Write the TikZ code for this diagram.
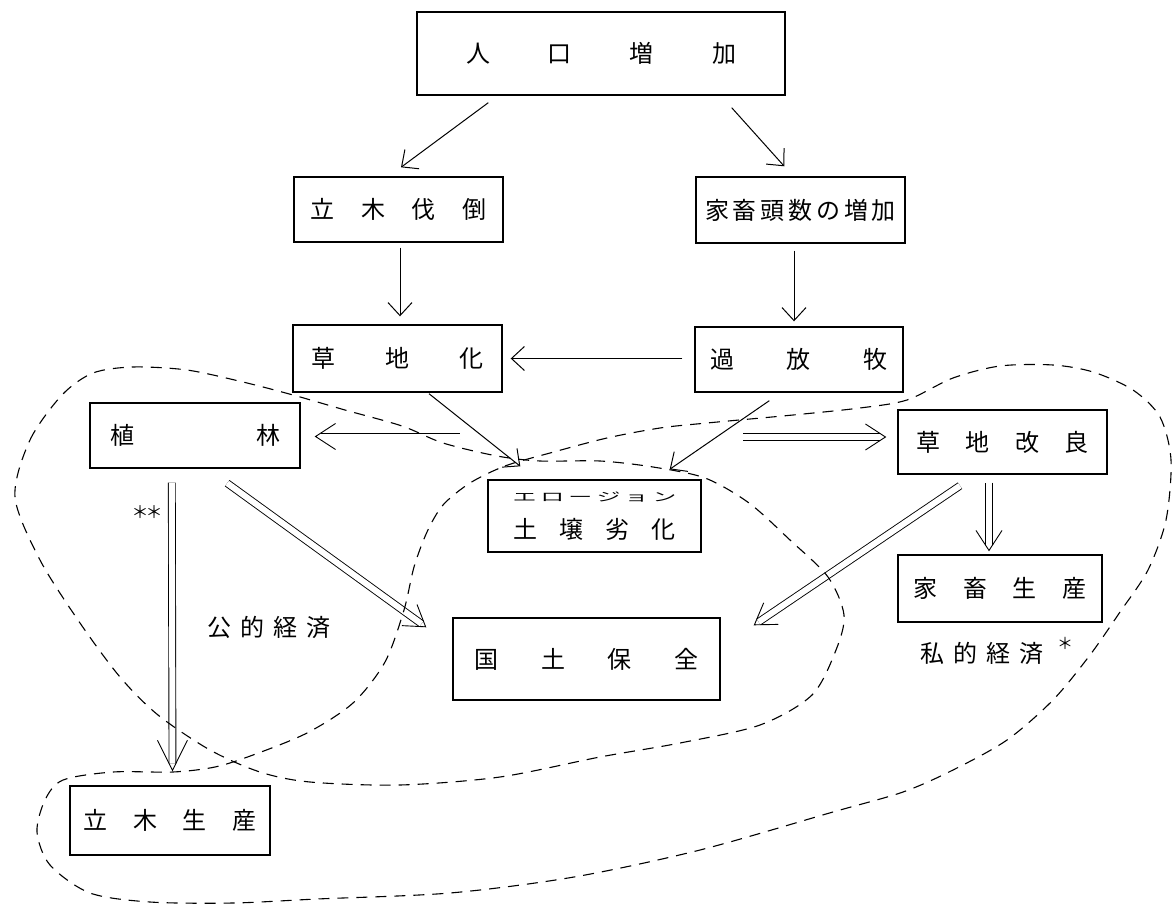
\documentclass[tikz,border=0pt]{standalone}
\usepackage{fontspec}
\usepackage{graphicx}
\newfontfamily\jpfont{Noto Sans CJK JP}
\usetikzlibrary{positioning, arrows.meta, calc, decorations.markings}

\begin{document}
\begin{tikzpicture}[x=1pt, y=-1pt,
    box/.style={draw, line width=1.4pt, inner sep=0pt, font=\jpfont\fontsize{24}{28}\selectfont},
    lbl/.style={inner sep=0pt, font=\jpfont\fontsize{24}{28}\selectfont},
    arr/.style={line width=1pt, -{Straight Barb[length=13pt, width=24pt]}},
    dblarrow/.style n args={3}{line width=7.8pt, shorten >=#3,
        postaction={draw=white, line width=6pt, shorten >=#3},
        postaction={decorate, decoration={markings, mark=at position 1 with
            {\draw[black, line width=0.9pt, shorten >=0pt, shorten <=0pt,
                -{Straight Barb[length=#1, width=#2]}] (-2pt,0) -- (0pt,0);}}}},
    dbl/.style={dblarrow={20pt}{26pt}{6pt}},
    dbllong/.style={dblarrow={30pt}{30pt}{8pt}},
    zone/.style={line width=1.1pt, dash pattern=on 11pt off 8pt}]
    \useasboundingbox (0,0) rectangle (1173,907);

    % Riquadri
    \node[box, minimum width=368pt, minimum height=83pt] (pop) at (601,53.5) {\makebox[270pt]{人\hfill 口\hfill 増\hfill 加}};
    \node[box, minimum width=209pt, minimum height=65pt] (fell) at (398.5,209.5) {\makebox[176pt]{立\hfill 木\hfill 伐\hfill 倒}};
    \node[box, minimum width=209pt, minimum height=66pt] (stock) at (800.5,210) {\makebox[191pt]{家\hfill 畜\hfill 頭\hfill 数\hfill の\hfill 増\hfill 加}};
    \node[box, minimum width=209pt, minimum height=67pt] (grass) at (397.5,358.5) {\makebox[173pt]{草\hfill 地\hfill 化}};
    \node[box, minimum width=208pt, minimum height=65pt] (over) at (799,359.5) {\makebox[177pt]{過\hfill 放\hfill 牧}};
    \node[box, minimum width=210pt, minimum height=65pt] (plant) at (195,435.5) {\makebox[170pt]{植\hfill 林}};
    \node[box, minimum width=213pt, minimum height=72pt, align=center] (erosion) at (594.5,516)
        {\scalebox{1}[0.5]{\fontsize{24}{24}\selectfont\makebox[164pt]{エ\hfill ロ\hfill ー\hfill ジ\hfill ョ\hfill ン}}\\[9pt]\makebox[162pt]{土\hfill 壌\hfill 劣\hfill 化}};
    \node[box, minimum width=209pt, minimum height=64pt] (improve) at (1002.5,442) {\makebox[172pt]{草\hfill 地\hfill 改\hfill 良}};
    \node[box, minimum width=204pt, minimum height=67pt] (prod) at (1000,588.5) {\makebox[173pt]{家\hfill 畜\hfill 生\hfill 産}};
    \node[box, minimum width=267pt, minimum height=82pt] (conserve) at (586.5,659) {\makebox[224pt]{国\hfill 土\hfill 保\hfill 全}};
    \node[box, minimum width=200pt, minimum height=69pt] (timber) at (170,820.5) {\makebox[173pt]{立\hfill 木\hfill 生\hfill 産}};

    % Scritte
    \node[lbl] (pubtxt) at (268.5,627) {\makebox[123pt]{公\hfill 的\hfill 経\hfill 済}};
    \node[lbl] (privtxt) at (981.5,653) {\makebox[123pt]{私\hfill 的\hfill 経\hfill 済}};
    \node[inner sep=0pt, font=\jpfont\fontsize{16}{16}\selectfont] (star1) at (1065,643) {＊};
    \node[inner sep=0pt, font=\jpfont\fontsize{17}{17}\selectfont] (star2) at (147,512) {＊\kern-3pt＊};

    % Frecce semplici
    \draw[arr] ($(pop.south west)+(72,7)$) -- ($(fell.north)+(2.5,-9)$);
    \draw[arr] ($(pop.south east)+(-54,12)$) -- ($(stock.north west)+(89,-10)$);
    \draw[arr] ($(fell.south)+(1.5,5)$) -- ($(grass.north)+(2.5,-8)$);
    \draw[arr] ($(stock.south)+(-6.5,7)$) -- ($(over.north)+(-5,-5)$);
    \draw[arr] ($(over.west)+(-12,-1)$) -- ($(grass.east)+(8,0)$);
    \draw[arr] ($(grass.south)+(31.5,1)$) -- ($(erosion.north west)+(33,-13)$);
    \draw[arr] ($(over.south west)+(75,8)$) -- ($(erosion.north east)+(-32,-10)$);

    % Frecce doppie
    \coordinate (lfrom) at (460,436.5);
    \coordinate (rfrom) at (743,437);
    \draw[dbl] (lfrom) -- ($(plant.east)+(14,1)$);
    \draw[dbl] (rfrom) -- ($(improve.west)+(-11,-5)$);
    \draw[dbllong] ($(plant.south west)+(82.5,14)$) -- ($(timber.north)+(2.5,-14)$);
    \draw[dbl] ($(plant.south east)+(-73.5,14.5)$) -- ($(conserve.north west)+(-26,10)$);
    \draw[dbl] ($(improve.south)+(-42.5,11)$) -- ($(conserve.north east)+(33,8)$);
    \draw[dbl] ($(improve.south)+(-13.5,8)$) -- ($(prod.north)+(-11,-3)$);

    % Zone tratteggiate
    \draw[zone] plot[smooth cycle, tension=0.5] coordinates {
        (15,497) (30,440) (62,395) (93,373) (133,367) (187,370) (243,382) (293,395)
        (345,410) (402,426) (443,443) (497,456) (540,461) (600,461) (653,467) (705,478)
        (749,503) (790,540) (828,577) (844,615) (836,650) (812,695) (760,725) (680,743)
        (600,757) (500,777) (400,785) (310,782) (260,772) (210,750) (158,715) (120,677)
        (80,623) (40,560)};
    \draw[zone] plot[smooth cycle, tension=0.5] coordinates {
        (470,483) (505,466) (550,453) (607,438) (660,428) (707,423) (793,415) (860,408)
        (907,400) (953,378) (1000,366) (1053,365) (1093,372) (1133,390) (1160,417) (1171,460)
        (1166,520) (1148,570) (1120,612) (1090,655) (1053,700) (1007,740) (953,770) (903,792)
        (833,812) (700,850) (574,877) (450,893) (317,899) (233,903) (150,902) (90,893)
        (50,865) (37,832) (45,800) (63,780) (113,772) (173,772) (215,767) (253,755)
        (307,733) (353,703) (385,662) (404,610) (414,567) (427,532) (443,505)};
\end{tikzpicture}
\end{document}
